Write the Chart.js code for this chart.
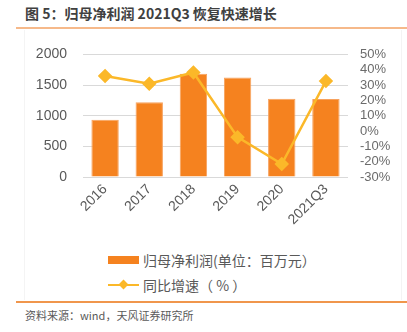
<!DOCTYPE html>
<html>
<head>
<meta charset="utf-8">
<script src="https://cdn.jsdelivr.net/npm/chart.js@4"></script>
<style>
  body { margin: 0; background: #fff; font-family: "Noto Sans CJK SC", sans-serif; }
  #page { position: relative; width: 407px; height: 332px; overflow: hidden; }
  #title { position: absolute; left: 25px; top: 3px; font-size: 14px; font-weight: bold; color: #404040; white-space: nowrap; }
  #topLine { position: absolute; left: 16px; right: 0; top: 27px; height: 2px; background: #f6b98a; }
  #frame { position: absolute; left: 24px; top: 30px; width: 376px; height: 270px; border-left: 1px solid #f4f4f4; border-right: 1px solid #f4f4f4; }
  #chartBox { position: absolute; left: 0; top: 30px; width: 407px; height: 215px; }
  #legend { position: absolute; left: 108px; top: 247px; font-size: 14px; color: #595959; }
  .item { height: 25px; display: flex; align-items: center; white-space: nowrap; }
  .sw { width: 31px; height: 14px; margin-right: 4px; position: relative; }
  #bottomLine { position: absolute; left: 16px; right: 0; top: 301px; height: 2px; background: #f0964c; }
  #source { position: absolute; left: 25px; top: 307px; font-size: 11px; color: #595959; white-space: nowrap; }
</style>
</head>
<body>
<div id="page">
  <div id="title">图 5：归母净利润 2021Q3 恢复快速增长</div>
  <div id="topLine"></div>
  <div id="frame"></div>
  <div id="chartBox"><canvas id="profitChart" width="407" height="215"></canvas></div>
  <div id="legend"></div>
  <div id="bottomLine"></div>
  <div id="source">资料来源：wind，天风证券研究所</div>
</div>
<script>
// Net profit attributable to parent, with YoY growth
const years = ["2016", "2017", "2018", "2019", "2020", "2021Q3"];
const netProfit = [935, 1220, 1685, 1623, 1276, 1271];
const yoyGrowth = [35.9, 30.8, 38.2, -4, -21.5, 32.6];
const profitTicks = [0, 500, 1000, 1500, 2000];
const growthTicks = [-30, -20, -10, 0, 10, 20, 30, 40, 50];

const barColor = "#f5821f";
const lineColor = "#fbb829";
const labelColor = "#595959";

const chart = new Chart(document.getElementById("profitChart"), {
  data: {
    labels: years,
    datasets: [
      {
        type: "line",
        label: "同比增速（ % ）",
        data: yoyGrowth,
        yAxisID: "yRight",
        borderColor: lineColor,
        backgroundColor: lineColor,
        borderWidth: 2.5,
        pointStyle: "rectRot",
        pointRadius: 5.5,
        pointHoverRadius: 5.5,
        tension: 0,
        order: 0
      },
      {
        type: "bar",
        label: "归母净利润(单位：百万元）",
        data: netProfit,
        yAxisID: "yLeft",
        backgroundColor: barColor,
        borderColor: "#f7a25e",
        borderWidth: 1,
        barPercentage: 0.62,
        categoryPercentage: 1,
        order: 1
      }
    ]
  },
  options: {
    responsive: false,
    animation: false,
    layout: { padding: { top: 18, left: 0, right: 0, bottom: 0 } },
    plugins: { legend: { display: false }, tooltip: { enabled: false } },
    scales: {
      x: {
        grid: { display: false, drawTicks: false },
        border: { display: false },
        ticks: {
          color: labelColor,
          font: { family: "Liberation Sans", size: 14 },
          maxRotation: 45,
          minRotation: 45,
          padding: 4
        },
        afterFit: (s) => { s.height = 68; }
      },
      yLeft: {
        position: "left",
        min: 0,
        max: 2000,
        grid: { color: "#d9d9d9", lineWidth: 1, drawTicks: false },
        border: { display: false },
        afterBuildTicks: (s) => { s.ticks = profitTicks.map(v => ({ value: v })); },
        ticks: {
          color: labelColor,
          font: { family: "Liberation Sans", size: 14 },
          padding: 16,
          autoSkip: false,
          callback: (v) => String(v)
        },
        afterFit: (s) => { s.width = 83; }
      },
      yRight: {
        position: "right",
        min: -30,
        max: 50,
        grid: { display: false, drawTicks: false },
        border: { display: false },
        afterBuildTicks: (s) => { s.ticks = growthTicks.map(v => ({ value: v })); },
        ticks: {
          color: "#6b6b6b",
          font: { family: "Liberation Sans", size: 13 },
          padding: 12,
          autoSkip: false,
          callback: (v) => v + "%"
        },
        afterFit: (s) => { s.width = 59; }
      }
    }
  }
});

// Legend built from the datasets, one item per row
const legend = document.getElementById("legend");
[chart.data.datasets[1], chart.data.datasets[0]].forEach((ds) => {
  const row = document.createElement("div");
  row.className = "item";
  const sw = document.createElement("span");
  sw.className = "sw";
  if (ds.type === "bar") {
    sw.innerHTML = '<span style="position:absolute;left:0;top:3px;width:31px;height:8px;background:' + barColor + '"></span>';
  } else {
    sw.innerHTML = '<span style="position:absolute;left:0;top:6px;width:31px;height:2.5px;background:' + lineColor + '"></span>' +
      '<span style="position:absolute;left:12px;top:3px;width:7px;height:7px;background:' + lineColor + ';transform:rotate(45deg)"></span>';
  }
  const txt = document.createElement("span");
  txt.textContent = ds.label;
  row.appendChild(sw);
  row.appendChild(txt);
  legend.appendChild(row);
});
</script>
</body>
</html>
